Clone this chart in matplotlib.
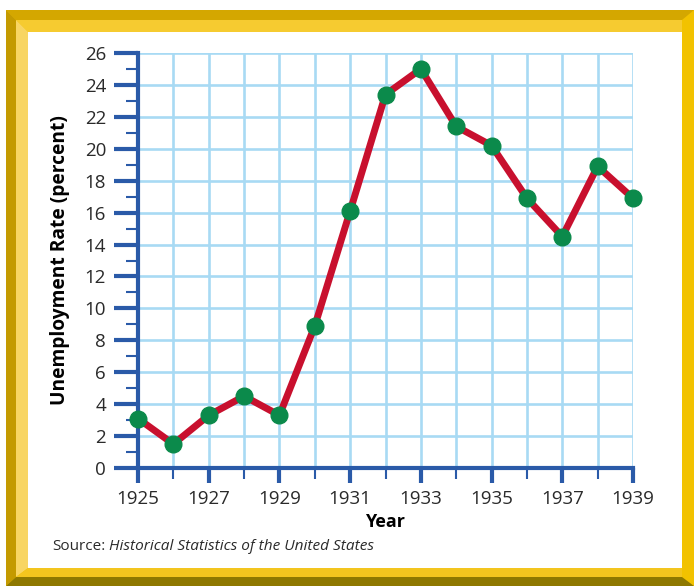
import matplotlib
matplotlib.use("Agg")
import matplotlib.pyplot as plt
from matplotlib.patches import Polygon

# data
years = [1925, 1926, 1927, 1928, 1929, 1930, 1931, 1932,
         1933, 1934, 1935, 1936, 1937, 1938, 1939]
rate = [3.1, 1.5, 3.3, 4.5, 3.3, 8.9, 16.1, 23.4,
        25.0, 21.4, 20.2, 16.9, 14.5, 18.9, 16.9]
xticks_major = [1925, 1927, 1929, 1931, 1933, 1935, 1937, 1939]
yticks_major = list(range(0, 27, 2))

W, H = 694, 586
plt.rcParams['font.family'] = ['Open Sans', 'DejaVu Sans']

fig = plt.figure(figsize=(W / 100, H / 100), dpi=100)
fig.patch.set_facecolor('white')

def px(x, y):
    # pixel (from top-left) -> figure fraction
    return x / W, 1 - y / H

def poly(pts, color):
    fig.patches.append(Polygon([px(*p) for p in pts], closed=True,
                               transform=fig.transFigure, facecolor=color,
                               edgecolor='none', zorder=-5))

# gold frame
poly([(6, 10), (694, 10), (694, 586), (6, 586)], '#F2C200')
poly([(6, 10), (694, 10), (682, 20), (16, 20)], '#D4A700')        # top dark
poly([(6, 10), (16, 20), (16, 577), (6, 586)], '#C49A00')          # left dark
poly([(16, 20), (682, 20), (682, 32), (28, 32)], '#F6CB30')        # top light
poly([(16, 20), (28, 32), (28, 568), (16, 577)], '#F8D563')        # left light
poly([(16, 577), (682, 577), (694, 586), (6, 586)], '#8E7800')     # bottom dark
poly([(28, 568), (682, 568), (682, 577), (16, 577)], '#F3C51E')    # bottom light
poly([(28, 32), (682, 32), (682, 568), (28, 568)], 'white')

ax = fig.add_axes([138 / W, (H - 468) / H, 495 / W, 415 / H])
ax.set_facecolor('none')
ax.set_zorder(2)

blue = '#2A5AA8'
grid = '#A8DAF4'

ax.set_xlim(1925, 1939)
ax.set_ylim(0, 26)
ax.set_xticks(xticks_major)
ax.set_xticks(years, minor=True)
ax.set_yticks(yticks_major)
ax.set_yticks(range(1, 26, 2), minor=True)

for yr in years:
    ax.axvline(yr, color=grid, lw=1.9, zorder=1)
for v in yticks_major:
    ax.axhline(v, color=grid, lw=1.9, zorder=1)

for s in ['top', 'right']:
    ax.spines[s].set_visible(False)
for s in ['left', 'bottom']:
    ax.spines[s].set_color(blue)
    ax.spines[s].set_linewidth(3)
    ax.spines[s].set_zorder(3)

ax.tick_params(axis='y', which='major', length=17, width=3, color=blue,
               pad=6, labelsize=13.5, labelcolor='#2a2a2a')
ax.tick_params(axis='y', which='minor', length=8.5, width=1.5, color=blue)
ax.tick_params(axis='x', which='major', length=11, width=3, color=blue,
               pad=4.5, labelsize=13.5, labelcolor='#2a2a2a')
ax.tick_params(axis='x', which='minor', length=8, width=1.5, color=blue)

ax.plot(years, rate, color='#C8102E', lw=5, zorder=4, solid_capstyle='round',
        solid_joinstyle='round', clip_on=False)
ax.plot(years, rate, 'o', color='#0B8A4B', ms=12, zorder=5, clip_on=False)

ax.set_xlabel('Year', fontsize=13, fontweight='bold', labelpad=0)
ax.set_ylabel('Unemployment Rate (percent)', fontsize=13.8, fontweight='bold')
ax.xaxis.set_label_coords(0.5, -0.108)
ax.yaxis.set_label_coords(-0.137, 0.5)

fig.text(52 / W, 1 - 547 / H, 'Source:', fontsize=11, color='#2a2a2a',
         va='center', ha='left')
fig.text(109 / W, 1 - 547 / H, 'Historical Statistics of the United States',
         fontsize=11.1, color='#2a2a2a', style='italic', va='center', ha='left')

fig.savefig('out.png', dpi=100)
